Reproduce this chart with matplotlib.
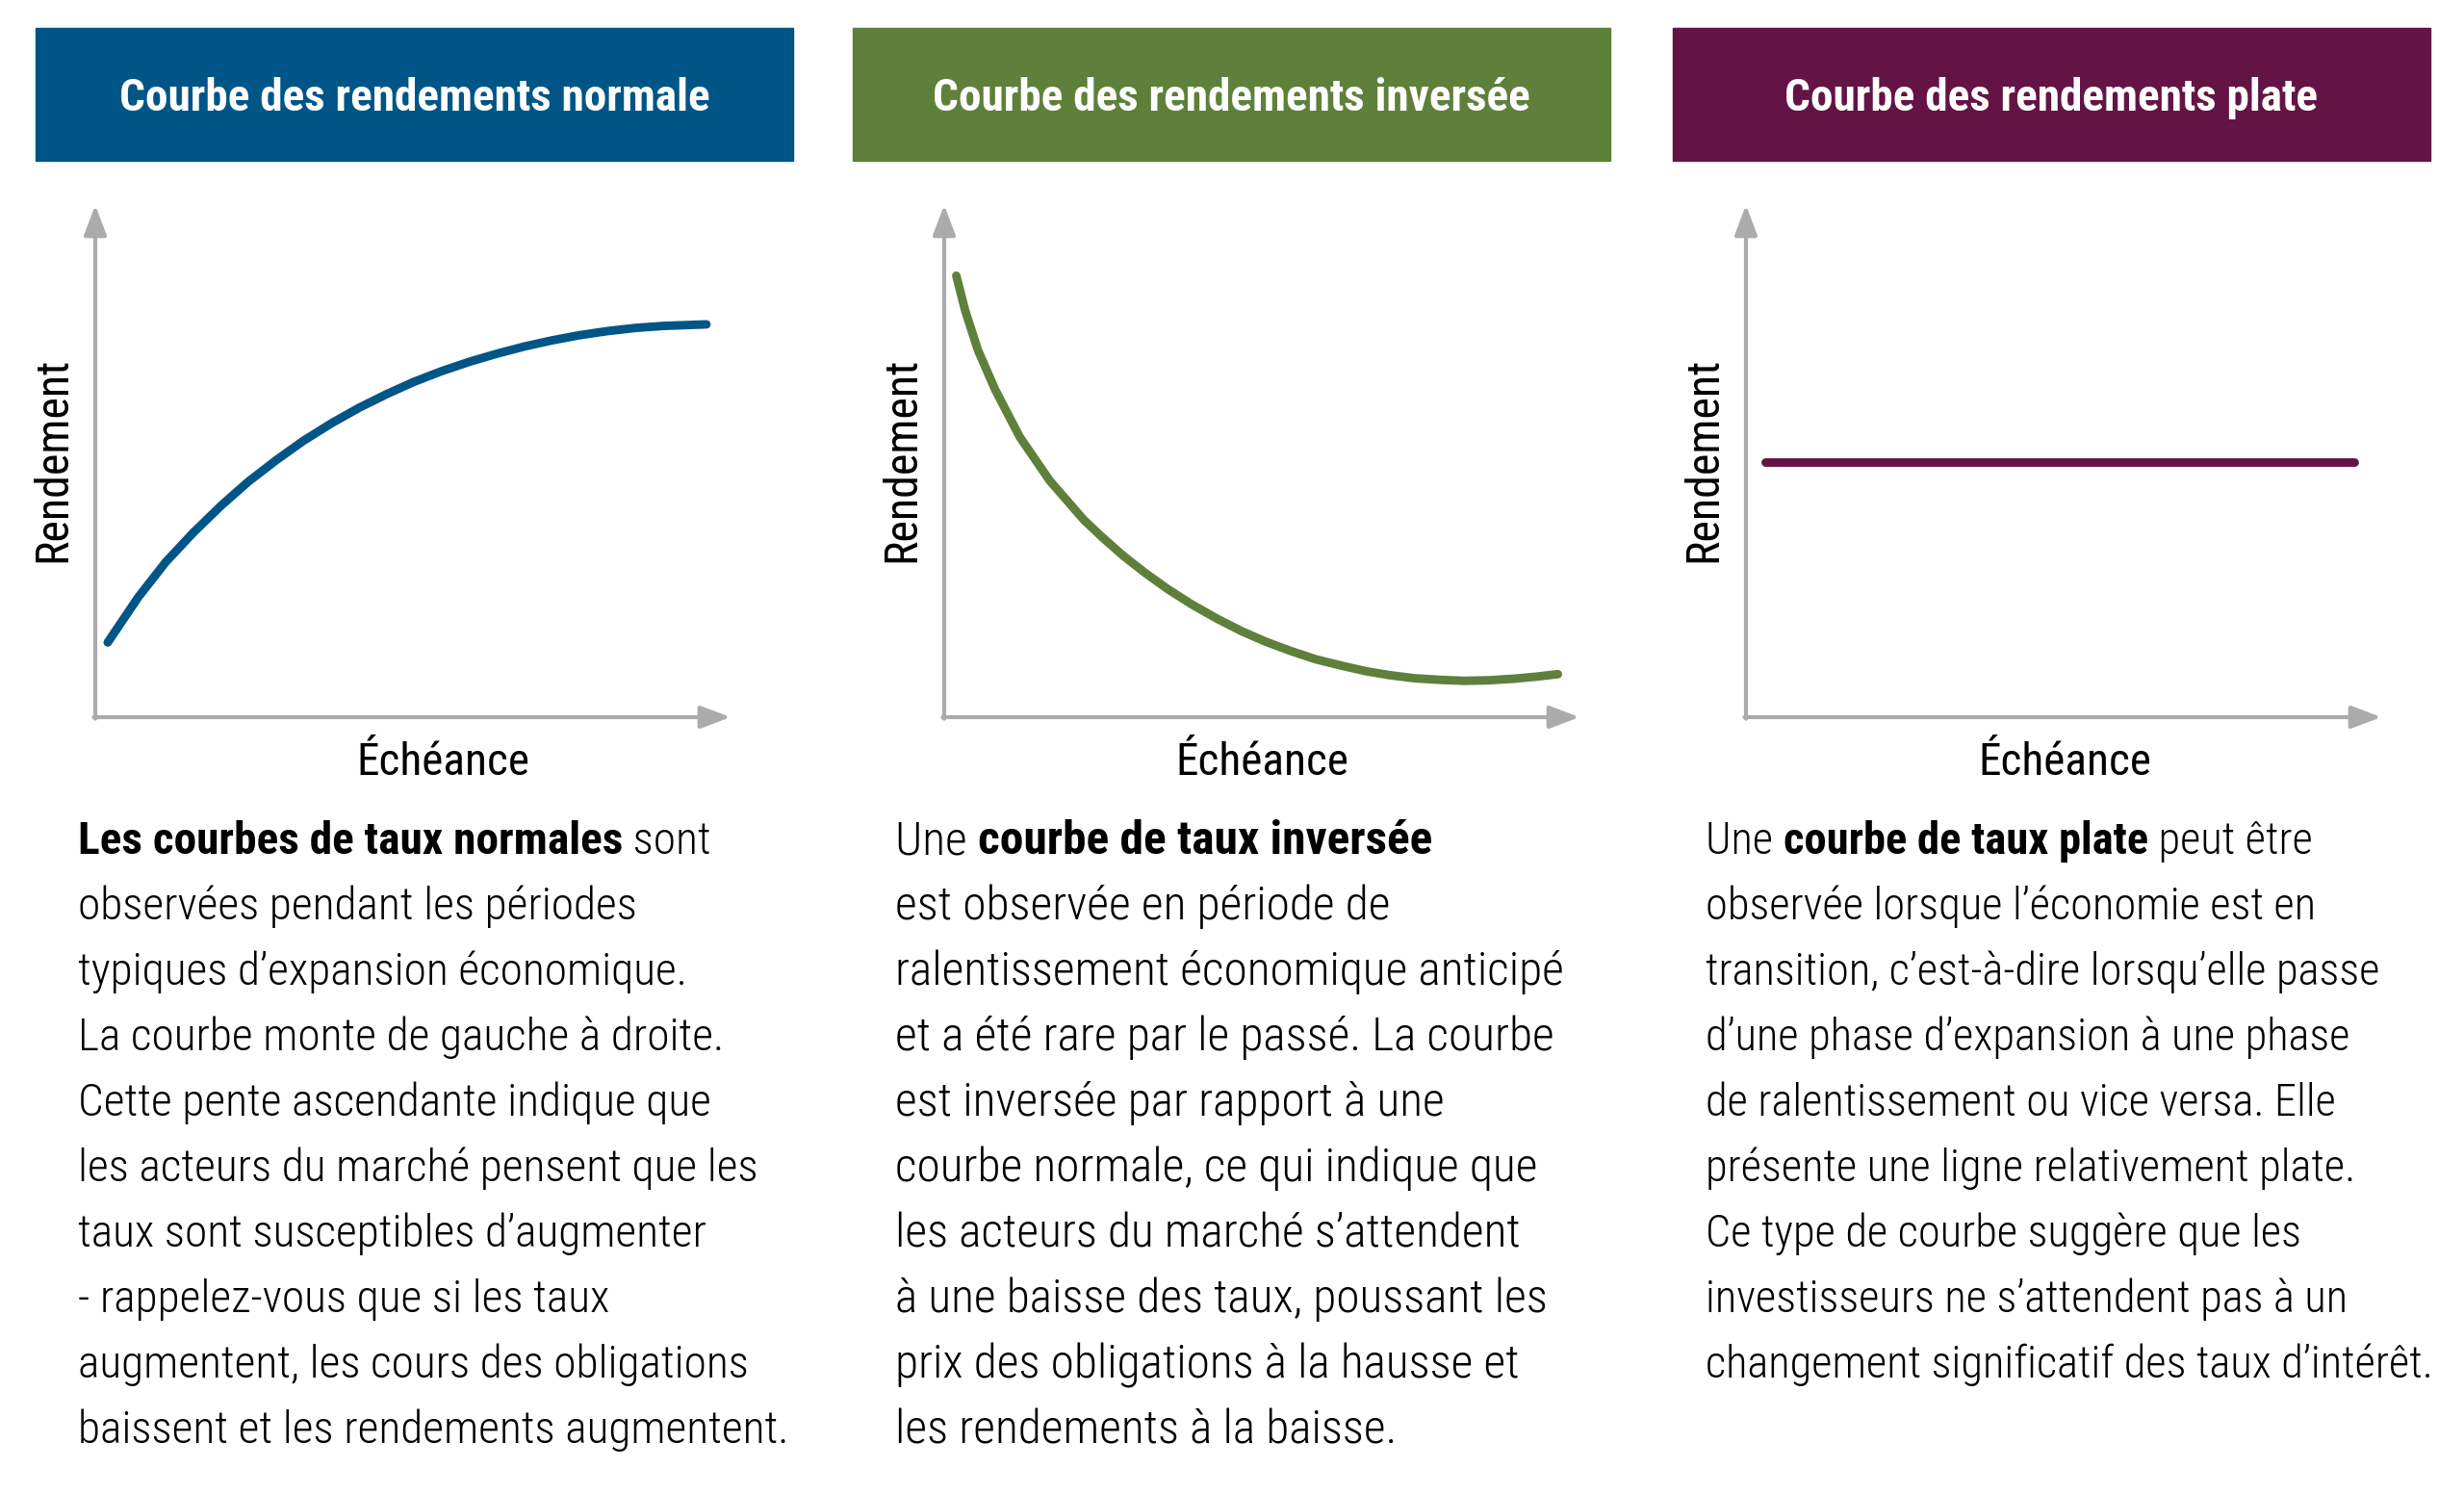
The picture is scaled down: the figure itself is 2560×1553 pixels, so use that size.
import matplotlib
matplotlib.use("Agg")
import matplotlib.pyplot as plt
from matplotlib import font_manager as fm
from matplotlib.patches import Rectangle

# ---------------- data ----------------
titles = ["Courbe des rendements normale",
          "Courbe des rendements inversée",
          "Courbe des rendements plate"]
colors = ["#005587", "#5E803B", "#631445"]
y_label = "Rendement"
x_label = "Échéance"

normal_x = [1.96, 6.75, 11.1, 15.4, 19.8, 24.1, 28.5, 32.8, 37.2, 41.5, 45.9,
            50.2, 54.6, 58.9, 63.3, 67.6, 72.0, 76.3, 80.7, 85.0, 89.4, 96.2]
normal_y = [14.6, 23.4, 30.3, 36.0, 41.3, 46.0, 50.2, 54.0, 57.4, 60.4, 63.1,
            65.5, 67.6, 69.4, 71.0, 72.4, 73.6, 74.6, 75.4, 76.0, 76.4, 76.7]

inverted_x = [1.9, 3.3, 5.3, 8.0, 11.9, 16.6, 22.0, 25.0, 28.2, 31.6, 35.2, 39.0, 43.0,
              46.8, 50.7, 54.6, 58.5, 62.4, 66.3, 70.1, 74.0, 77.9, 81.8, 85.7, 89.6,
              93.1, 96.6]
inverted_y = [86.2, 79.4, 71.7, 64.0, 54.7, 46.2, 38.5, 35.0, 31.5, 28.2, 25.0, 22.0, 19.2,
              16.8, 14.7, 12.9, 11.3, 10.1, 9.0, 8.2, 7.6, 7.3, 7.1, 7.2, 7.5,
              7.9, 8.4]

flat_x = [3.0, 95.8]
flat_y = [49.8, 49.8]

texts = [
    [[("Les courbes de taux normales", "bold"), (" sont", "light")],
     [("observées pendant les périodes", "light")],
     [("typiques d’expansion économique.", "light")],
     [("La courbe monte de gauche à droite.", "light")],
     [("Cette pente ascendante indique que", "light")],
     [("les acteurs du marché pensent que les", "light")],
     [("taux sont susceptibles d’augmenter", "light")],
     [("- rappelez-vous que si les taux", "light")],
     [("augmentent, les cours des obligations", "light")],
     [("baissent et les rendements augmentent.", "light")]],
    [[("Une ", "light"), ("courbe de taux inversée", "bold")],
     [("est observée en période de", "light")],
     [("ralentissement économique anticipé", "light")],
     [("et a été rare par le passé. La courbe", "light")],
     [("est inversée par rapport à une", "light")],
     [("courbe normale, ce qui indique que", "light")],
     [("les acteurs du marché s’attendent", "light")],
     [("à une baisse des taux, poussant les", "light")],
     [("prix des obligations à la hausse et", "light")],
     [("les rendements à la baisse.", "light")]],
    [[("Une ", "light"), ("courbe de taux plate", "bold"), (" peut être", "light")],
     [("observée lorsque l’économie est en", "light")],
     [("transition, c’est-à-dire lorsqu’elle passe", "light")],
     [("d’une phase d’expansion à une phase", "light")],
     [("de ralentissement ou vice versa. Elle", "light")],
     [("présente une ligne relativement plate.", "light")],
     [("Ce type de courbe suggère que les", "light")],
     [("investisseurs ne s’attendent pas à un", "light")],
     [("changement significatif des taux d’intérêt.", "light")]],
]

# ---------------- fonts ----------------
names = {f.name for f in fm.fontManager.ttflist}
FAM = "Roboto Condensed" if "Roboto Condensed" in names else "Roboto"

W, H = 2560, 1553
fig = plt.figure(figsize=(25.6, 15.53), dpi=100)
fig.patch.set_facecolor("white")


def fx(x):
    return x / W


def fy(y):
    return 1 - y / H


header_left = [37, 886, 1738]
header_w = 787
axis_left = [99, 981, 1814]
xlabel_x = [460, 1311, 2145]
body_left = [81, 930, 1772]
body_fs = [34.1, 35.6, 33.5]

for i in range(3):
    fig.patches.append(Rectangle((fx(header_left[i]), fy(167)), header_w / W, 138 / H,
                                 transform=fig.transFigure, color=colors[i], zorder=0))
    fig.text(fx(header_left[i] + header_w / 2), fy(102), titles[i], color="white",
             family=FAM, weight="bold", fontsize=34, ha="center", va="center")

    ax = fig.add_axes([fx(axis_left[i]), fy(745), 660 / W, 532 / H])
    ax.set_xlim(0, 100)
    ax.set_ylim(0, 100)
    ax.axis("off")
    ap = dict(arrowstyle="-|>,head_length=0.95,head_width=0.36", mutation_scale=20,
              color="#ABABAB", lw=3, shrinkA=0, shrinkB=0)
    ax.annotate("", xy=(100, 0), xytext=(-0.25, 0), arrowprops=ap, annotation_clip=False)
    ax.annotate("", xy=(0, 100), xytext=(0, -0.3), arrowprops=ap, annotation_clip=False)

    xs, ys = [(normal_x, normal_y), (inverted_x, inverted_y), (flat_x, flat_y)][i]
    ax.plot(xs, ys, color=colors[i], lw=6.4, solid_capstyle="round",
            solid_joinstyle="round", clip_on=False)

    fig.text(fx(axis_left[i] - 44), fy(477), y_label, rotation=90, family=FAM,
             fontsize=34.5, ha="center", va="center", color="black")
    fig.text(fx(xlabel_x[i]), fy(792), x_label, family=FAM,
             fontsize=34, ha="center", va="center", color="black")

fig.canvas.draw()
renderer = fig.canvas.get_renderer()

for i in range(3):
    for k, line in enumerate(texts[i]):
        ybase = 887 + 68 * k
        xpix = body_left[i]
        for seg, wt in line:
            t = fig.text(fx(xpix), fy(ybase), seg, ha="left", va="baseline",
                         family=FAM, weight=("bold" if wt == "bold" else "light"),
                         fontsize=body_fs[i], color="black")
            bb = t.get_window_extent(renderer)
            xpix = bb.x1

fig.savefig("out.png", dpi=100)
